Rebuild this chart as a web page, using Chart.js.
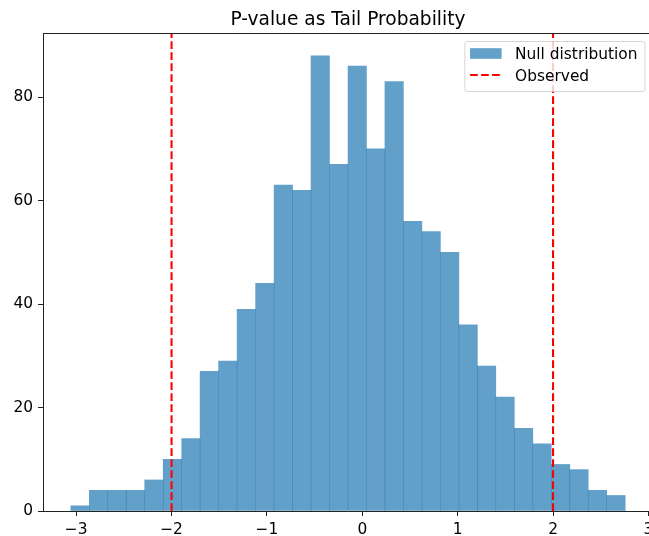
<!DOCTYPE html>
<html>
<head>
<meta charset="utf-8">
<script src="https://cdn.jsdelivr.net/npm/chart.js@4/dist/chart.umd.min.js"></script>
<style>
html,body{margin:0;padding:0;overflow:hidden;background:#fff;width:649px;height:536px}
#wrap{position:relative;width:653px;height:536px}
canvas{display:block}
</style>
</head>
<body>
<div id="wrap"><canvas id="c" width="653" height="536"></canvas></div>
<script>
const chartTitle = 'P-value as Tail Probability';
const seriesLabels = ['Null distribution', 'Observed'];
const binCenters = [-2.960, -2.766, -2.572, -2.379, -2.185, -1.991, -1.797, -1.604, -1.410, -1.216,
                    -1.022, -0.828, -0.635, -0.441, -0.247, -0.053, 0.141, 0.334, 0.528, 0.722,
                    0.916, 1.110, 1.303, 1.497, 1.691, 1.885, 2.079, 2.272, 2.466, 2.660];
const binCounts = [1, 4, 4, 4, 6, 10, 14, 27, 29, 39,
                   44, 63, 62, 88, 67, 86, 70, 83, 56, 54,
                   50, 36, 28, 22, 16, 13, 9, 8, 4, 3];
const observedValues = [-2, 2];
const xTickValues = [-3, -2, -1, 0, 1, 2, 3];
const yTickValues = [0, 20, 40, 60, 80];
const xRange = [-3.348, 3.048];
const yRange = [0, 92.4];

const FONT = '"DejaVu Sans", "Liberation Sans", sans-serif';
const TITLE_SIZE = 18.6;
const TEXT_SIZE = 15.4;
const barColor = 'rgba(31,119,180,0.7)';
const lineColor = '#ff0000';
const dash = [7.7, 3.3];

const barData = binCenters.map((x, i) => ({x: x, y: binCounts[i]}));
const lineSets = observedValues.map((v, i) => ({
  type: 'line',
  label: seriesLabels[1],
  data: [{x: v, y: yRange[0]}, {x: v, y: yRange[1]}],
  borderColor: lineColor,
  borderWidth: 2.08,
  borderDash: dash,
  pointRadius: 0,
  fill: false,
  order: 1,
  clip: false
}));

function fmt(v) {
  return v < 0 ? '\u2212' + Math.abs(v) : String(v);
}

const overlay = {
  id: 'overlay',
  afterDraw(chart) {
    const ctx = chart.ctx;
    const a = chart.chartArea;
    ctx.save();
    // top spine
    ctx.strokeStyle = '#222';
    ctx.lineWidth = 1;
    ctx.beginPath();
    ctx.moveTo(a.left, Math.round(a.top) + 0.5);
    ctx.lineTo(a.right, Math.round(a.top) + 0.5);
    ctx.stroke();
    // title
    ctx.font = TITLE_SIZE + 'px ' + FONT;
    ctx.fillStyle = '#000';
    ctx.textAlign = 'center';
    ctx.textBaseline = 'alphabetic';
    ctx.fillText(chartTitle, (a.left + a.right) / 2, a.top - 8.3);
    // legend
    ctx.font = TEXT_SIZE + 'px ' + FONT;
    const tw = Math.max(...seriesLabels.map(s => ctx.measureText(s).width));
    const padL = 5.7, handle = 31.5, gap = 13.5, padR = 7;
    const boxW = padL + handle + gap + tw + padR;
    const boxH = 50;
    const right = a.right - 8.5;
    const left = right - boxW;
    const top = a.top + 8;
    ctx.beginPath();
    ctx.roundRect(left + 0.5, top + 0.5, boxW, boxH, 2.8);
    ctx.fillStyle = 'rgba(255,255,255,0.8)';
    ctx.fill();
    ctx.strokeStyle = 'rgba(204,204,204,0.8)';
    ctx.lineWidth = 1;
    ctx.stroke();
    const rows = [top + 12.5, top + 34];
    const hx = left + padL;
    ctx.fillStyle = barColor;
    ctx.fillRect(hx, rows[0] - 5.3, handle, 10.6);
    ctx.beginPath();
    ctx.setLineDash(dash);
    ctx.strokeStyle = lineColor;
    ctx.lineWidth = 2.08;
    ctx.moveTo(hx, rows[1]);
    ctx.lineTo(hx + handle, rows[1]);
    ctx.stroke();
    ctx.setLineDash([]);
    ctx.fillStyle = '#000';
    ctx.textAlign = 'left';
    ctx.textBaseline = 'alphabetic';
    seriesLabels.forEach((s, i) => ctx.fillText(s, hx + handle + gap, rows[i] + 5.5));
    ctx.restore();
  }
};

Chart.defaults.font.family = FONT;
Chart.defaults.font.size = TEXT_SIZE;
Chart.defaults.color = '#000';

new Chart(document.getElementById('c'), {
  type: 'bar',
  data: {
    datasets: [
      {
        type: 'bar',
        label: seriesLabels[0],
        data: barData,
        backgroundColor: barColor,
        borderWidth: 0,
        barPercentage: 1.0,
        categoryPercentage: 1.0,
        order: 2
      },
      ...lineSets
    ]
  },
  options: {
    responsive: false,
    animation: false,
    events: [],
    layout: {padding: {top: 33, left: 0, right: 0, bottom: 0}},
    plugins: {
      legend: {display: false},
      title: {display: false},
      tooltip: {enabled: false}
    },
    scales: {
      x: {
        type: 'linear',
        offset: false,
        min: xRange[0],
        max: xRange[1],
        afterBuildTicks: s => { s.ticks = xTickValues.map(v => ({value: v})); },
        afterFit: s => { s.height = 25; s.paddingLeft = 0; s.paddingRight = 0; },
        ticks: {
          callback: v => fmt(v),
          padding: 4.8,
          maxRotation: 0,
          autoSkip: false,
          color: '#000',
          font: {size: TEXT_SIZE}
        },
        grid: {display: true, offset: false, drawOnChartArea: false, drawTicks: true, tickLength: 5, color: '#222', lineWidth: 1},
        border: {display: true, color: '#222', width: 1}
      },
      y: {
        type: 'linear',
        min: yRange[0],
        max: yRange[1],
        afterBuildTicks: s => { s.ticks = yTickValues.map(v => ({value: v})); },
        afterFit: s => { s.width = 43; s.paddingTop = 0; s.paddingBottom = 0; },
        ticks: {
          callback: v => fmt(v),
          padding: 5,
          autoSkip: false,
          color: '#000',
          font: {size: TEXT_SIZE}
        },
        grid: {display: true, drawOnChartArea: false, drawTicks: true, tickLength: 5, color: '#222', lineWidth: 1},
        border: {display: true, color: '#222', width: 1}
      }
    }
  },
  plugins: [overlay]
});
</script>
</body>
</html>
